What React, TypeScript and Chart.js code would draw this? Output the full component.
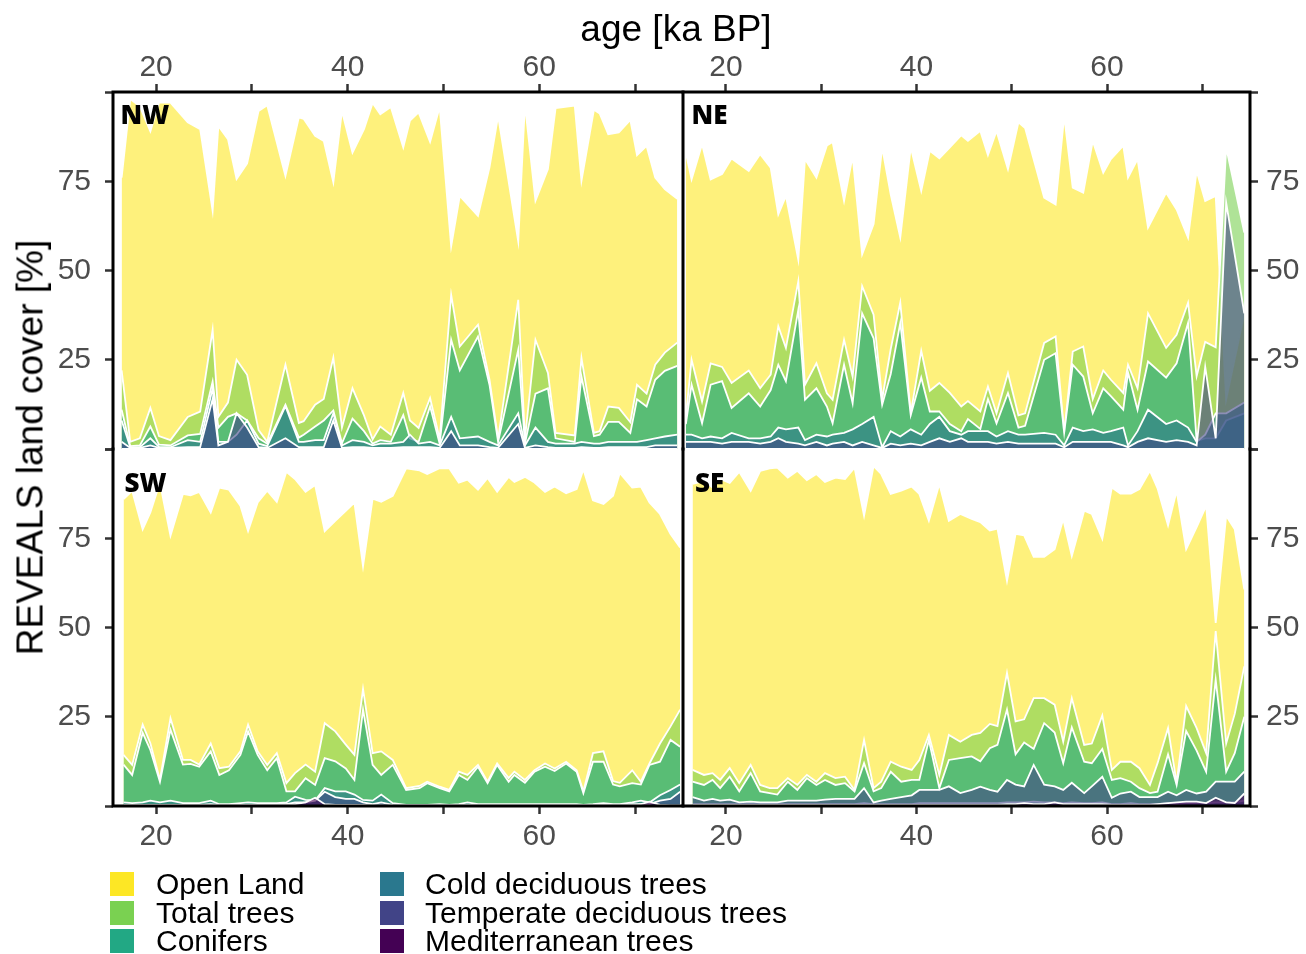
import React, { useEffect, useRef } from "react";
import { Chart, registerables } from "chart.js";
Chart.register(...registerables);

const seriesNames = [
  "Open Land",
  "Total trees",
  "Conifers",
  "Cold deciduous trees",
  "Temperate deciduous trees",
  "Mediterranean trees",
];
const seriesColors = ["#FDE725", "#7AD151", "#22A884", "#2A788E", "#414487", "#440154"];

const xTickValues = [20, 30, 40, 50, 60, 70];
const xTickLabels = ["20", "", "40", "", "60", ""];
const yTickValues = [0, 25, 50, 75, 100];
const yTickLabels = ["", "25", "50", "75", ""];
const panelLabels = ["NW", "NE", "SW", "SE"];

// ---------------- NW ----------------
const nwAges = [16.4,17.3,18.3,19.4,20.3,21.5,23.3,24.6,25.9,26.5,27.5,28.4,29.5,30.7,31.6,33.5,34.9,35.4,36.6,37.5,38.5,39.4,40.5,41.7,42.6,43.4,44.5,45.8,46.5,47.4,48.6,49.6,50.8,51.7,53.6,54.8,55.7,57.8,58.5,59.6,60.9,61.7,63.7,64.4,65.7,66.3,67.2,68.3,69.5,70.2,71.2,72.1,73.1,74.4];
const nwOpen = [76,98,96,89,97,97,91.5,89.6,66.7,90.5,86.8,75.6,80,94.7,96.3,76.5,92.9,92.5,87.7,86.3,74.7,94.7,83,89.6,96.9,93.8,95.8,84.5,92,94.3,86,95.8,56.8,70.9,65.3,78.9,93.3,58.2,96.6,69.5,78.4,95.5,96.2,75.1,95,94,88.2,88.7,92.2,82.3,84.9,76,72.8,70.1];
const nwTotal = [22,2,3,11.5,3.6,2.5,9,10.5,33.4,9,13,25,20.8,5.3,2,23.6,7.3,7.8,12.4,14,25.6,6,17,9.4,2.7,6.3,4,15.7,8,5.9,14.3,2.8,43.2,28.7,34.8,19.4,2.8,41.8,2.8,30.6,21.3,4.5,3.8,25.5,4.5,5,11.9,11.5,7.5,18,15.5,23.6,27,29.8];
const nwConifers = [11,0.8,1,6.3,1.2,1,3.8,4.2,18.9,6,9,10,8,3,1.5,12.4,3.2,4,6.3,8,10.8,1.6,8.5,5,1.5,2.5,2,9.5,3,2,12,1.5,30.6,22,31.5,18,2,27.8,1.5,15.5,17,3,2,20.3,3.6,4,7.6,7.6,4.5,13.9,11.9,19.4,21.9,23.3];
const nwCold = [8,0.5,0.5,3,0.6,0.5,2.5,2,17,2,2,4,8,1.5,0.8,12,2,2,2.5,2.5,10,1,2.5,2,1,1.5,1.5,2,4,1.5,2,1,9,3,3.5,2,1,10,1,6,2,1.5,1.5,2,1.5,1.5,2,2,2,2,2.5,3,3.5,4];
const nwTemperate = [2,0.3,0.3,1,0.3,0.3,0.5,0.5,14,1,2,10,6,0.5,0.3,3,0.5,0.5,0.5,0.5,8,0.3,0.5,0.5,0.3,0.3,0.3,0.5,0.5,0.5,0.5,0.3,5,1,1,0.5,0.3,7,0.3,1,0.5,0.3,0.3,0.5,0.3,0.3,0.5,0.5,0.5,0.5,0.5,1,1,1];
const nwMed = [0,0,0,0,0,0,0,0,0,0,0,0,0,0,0,0,0,0,0,0,0,0,0,0,0,0,0,0,0,0,0,0,0,0,0,0,0,0,0,0,0,0,0,0,0,0,0,0,0,0,0,0,0,0];

// ---------------- NE ----------------
const neAges = [15.8,16.4,17.5,18.4,19.6,20.6,22.4,23.6,24.7,25.5,26.3,27.6,28.3,29.5,30.6,31.2,32.4,33.3,34.3,35.5,36.4,37.3,38.3,39.4,40.5,41.4,42.4,43.5,44.7,45.4,46.7,47.5,48.4,49.6,50.7,51.4,53.4,54.6,55.5,56.4,57.5,58.5,59.6,60.4,61.7,62.2,63.2,64.3,66.2,67.3,68.5,69.4,70.3,71.4,72.5,74.4];
const neOpen = [83,75.5,85.4,75.5,77,81.4,77.9,82.6,78.8,65.7,70.9,53,81.2,76,85,86,69.5,82,54.5,63,84.5,71.3,59.2,84.5,72.3,83.5,81.4,84.5,87.9,86.3,89.1,82.3,89.1,78.4,91.5,89.9,70.4,68.5,93.3,73.2,71.8,86.3,77.4,81.2,85,76,81.2,62,71.8,67.1,59.2,77.9,69.5,70.9,14,38];
const neTotal = [9,25,13.3,24,23,18.5,22,17,20.8,34.4,28.3,47,18,24,15.6,13.8,30.6,20.3,45.6,37.6,14,28,41,10,27.5,16.3,18.5,15.7,11.9,13.4,10.5,17.5,10,21.3,9.4,10,29.7,31.5,4.6,27.3,28.7,14,22,19.4,15.7,23.6,17,38,28.3,32,41,20.4,30,28.5,84.5,60.6];
const neConifers = [7,18,7.2,18,19,11.5,15.6,11.9,16.5,23.6,19,39,13.8,17,11.9,7.2,23.6,12.8,38,31,12.4,21,35.3,9.5,20,10.5,10.5,7,5,8.4,5.6,14,7.2,15.7,6,6.5,25,26.8,4.6,23.6,20.3,10,17,14.8,11,21.4,11,24.5,20,24,35.3,2.3,3,3,8,10];
const neCold = [4,4,3,3.5,3,4.5,3,3,3.5,6,5.5,6,2.5,4,3.5,4,4.5,5.5,7,9,0.5,5,3.5,5.5,4,7,9,5,4,5,5,5,3.5,5,4,4,4.5,4,1,6,5,5.5,4.5,5,6,1,5,11,7,8,6,2,4,10,10,13];
const neTemperate = [2,2,2,2,1.5,2,2,1.5,2,3,2,1.5,1,2,1,1.5,2,1,2,1,0.3,1.5,1,1.5,1,2,3,2,3,2,2,2,1.5,2,1.5,1.5,1.5,1.5,0.5,2,2,2,2,2,1,0.5,2,3,2,2.5,2,1,23,3,69,38];
const neMed = [0,0,0,0,0,0,0,0,0,0,0,0,0,0,0,0,0,0,0,0,0,0,0,0,0,0,0,0,0,0,0,0,0,0,0,0,0,0,0,0,0,0,0,0,0,0,0,0,0,0,0,0,0,0,0,0];

// ---------------- SW ----------------
const swAges = [16.6,17.5,18.6,19.4,20.4,21.5,22.8,23.6,24.5,25.7,26.6,27.6,28.8,29.6,30.6,31.6,32.6,33.6,34.5,35.6,36.6,37.6,38.7,39.8,40.7,41.6,42.6,43.5,44.7,46.1,47.5,48.3,49.6,50.6,51.6,52.5,53.6,54.6,55.6,56.8,57.4,58.5,59.5,60.6,61.6,62.8,63.9,64.6,65.6,66.7,67.7,68.4,69.7,70.6,71.5,72.6,73.7,74.7];
const swOpen = [86,88.3,77.5,82.2,90.6,75.7,87.4,87,88,82.2,89.2,88.6,84.1,77,85,88.3,85.2,93.6,91.6,88,89.9,77,79.9,82.7,85,67.2,86.1,85.2,86.9,94.6,94,93,94.6,94.6,90.6,91.4,88.6,91.9,88,92.2,90.8,92.2,90.6,88,89.5,87.6,88.8,94.3,85.6,84.6,86.9,93.3,89.2,89.5,85,81.8,76.2,72.4];
const swTotal = [14.3,11.5,22.8,17.6,7.3,24.6,12.9,12.9,11.6,17.5,10.6,11,15.3,22.8,15.3,11.5,14.8,6.4,9.2,11.6,9.6,23.2,20.9,17.2,14.3,32.8,14.8,15.3,12.9,5,5.6,6.8,5.4,4.5,9.6,8.7,11.5,6.8,11.9,7.8,9.6,7.3,10,11.9,10.5,12.4,10,4.1,14.8,15.3,7,6.5,10,6.8,11.9,17.5,22.3,27];
const swConifers = [11.6,8.7,20.5,15.7,6.8,21.4,11.6,11.8,11,15.3,8.7,10,14.3,20.9,14.3,10,13.4,4.1,4.1,7.8,5.9,13.4,12.5,10.5,7.3,27,11.5,8.7,11.5,4.5,5,6.4,5,4.1,8.7,7.3,11,6.4,11.5,6.8,8.7,6.5,9.6,11,9.8,11.9,9.6,3.6,12.4,12.4,6,5.5,6.4,6,11.5,12.4,18.5,16.6];
const swCold = [1,0.8,1,1.5,1,1.5,0.8,0.8,0.8,1.5,0.5,0.5,0.8,1,0.8,0.8,0.8,1,2.6,1.7,1.5,5,4.1,4.1,3.2,1.7,1.5,3.2,0.8,0.3,0.3,0.3,0.5,0.3,0.5,1,0.5,0.5,0.5,0.5,0.5,0.5,0.5,0.5,0.5,0.5,0.5,0.3,0.5,0.8,0.5,0.5,1,1.5,1,3,4.5,6];
const swTemperate = [0.3,0.3,0.3,0.3,0.3,0.3,0.3,0.3,0.3,0.5,0.3,0.3,0.3,0.3,0.3,0.3,0.3,0.5,1,1,1.5,4,2.5,2,2,1,0.5,1,0.3,0.2,0.2,0.2,0.2,0.2,0.3,0.3,0.3,0.3,0.3,0.3,0.3,0.3,0.3,0.3,0.3,0.3,0.3,0.2,0.3,0.3,0.3,0.3,0.5,0.5,0.5,1.5,2,4];
const swMed = [0,0,0,0,0,0,0,0,0,0,0,0,0,0,0,0.3,0.5,0.5,0.5,1,2.3,0.5,0.3,0.3,0.3,0.3,0.2,0.2,0,0,0,0,0,0,0,0,0,0,0,0,0,0,0,0,0,0,0,0,0,0,0,0,0,0.5,1.2,0.3,0.2,0.2];

// ---------------- SE ----------------
const seAges = [16.5,17.7,18.6,19.4,20.4,21.4,22.6,23.6,24.6,25.4,26.5,27.5,28.5,29.5,30.4,31.5,32.5,33.5,34.5,35.5,36.3,37.3,38.4,39.5,40.3,41.3,42.4,43.4,44.6,45.8,46.7,47.7,48.5,49.5,50.4,51.3,52.3,53.4,54.5,55.4,56.3,57.6,58.4,59.5,60.5,61.4,62.5,63.4,64.5,65.3,66.4,67.3,68.3,69.4,70.4,71.4,72.5,73.4,74.4];
const seOpen = [90.2,91,89.2,91.6,90.5,93.6,88.3,93.9,94.6,94.8,92,93.9,91.3,93,90.8,92,91.6,94.8,81.3,95.2,93,87.4,88.3,89.5,87.4,79.9,90.2,79.9,81.8,80.4,79.5,77.2,77.7,63,76.2,75.8,69.8,69.8,71.9,80.4,70,82.7,81.8,74.8,89.2,87.5,87.5,88.8,93.9,89,78.6,88.3,71.9,78.1,84.1,51.3,81.3,77.5,60.7];
const seTotal = [10.1,8.7,9.2,7.3,10.6,6.4,11.5,5.9,5,5,7.8,5.9,8.7,6.8,9.2,7.8,8.2,4.5,18.5,5,6.8,12.4,11,10.1,12.9,19.9,8.7,19.9,18,19.9,20.5,23,22.4,37.3,23.7,24.3,30.2,30.2,28.4,18,30.2,17.1,17.5,25.4,10.1,12.4,12.4,10.6,5.9,12,21.8,6.4,28,21.8,14.8,49,17.5,25.8,39.1];
const seConifers = [6.8,5.9,7.3,5,8.2,4.1,9.2,4.1,3.6,3.2,6.8,4.5,7.8,5.9,7.3,5.9,6.4,4.1,12,4.1,5,9.6,6.8,7.3,7.3,18.5,5,12.9,13.4,13.9,12.5,16.2,17.1,27,14.5,17.8,16,23.2,20.6,12,22,12.4,12,16,7.3,7.8,6.8,5,3.6,4,14.5,5.9,21,15.5,9.6,35.4,9.6,14.8,25];
const seCold = [0.5,0.5,0.5,0.5,0.5,0.5,0.5,0.5,0.5,0.5,0.5,0.5,0.5,0.5,0.5,0.5,0.5,0.5,0.8,0.5,0.5,0.5,0.5,0.5,0.8,0.8,0.8,0.8,0.8,0.8,0.8,0.8,0.8,1,1,1,1.2,1,1,0.8,1,0.8,0.8,1,0.5,0.5,0.8,0.5,0.5,0.5,0.8,0.5,0.8,0.8,0.8,1,1,1,1.5];
const seTemperate = [2.5,1.5,2,1.5,1.8,1,1.2,1,1,1,1.5,1.5,1.5,1.5,1.8,2,2,2,5,1,1.5,2,2.5,3,4.5,4.5,4.5,5.5,3.6,4.5,5.4,4.5,4,7.3,6,5.5,11.5,6,5.5,4.5,6.5,3.6,5.5,8.2,2.3,3.5,4,2.5,2.5,2.5,4,3,4.5,3.5,4,6.8,6.8,6.8,9.6];
const seMed = [0.3,0.3,0.3,0.3,0.3,0.3,0.3,0.3,0.3,0.3,0.3,0.3,0.3,0.3,0.3,0.3,0.3,0.3,0.3,0.3,0.3,0.3,0.3,0.3,0.3,0.3,0.3,0.3,0.3,0.3,0.3,0.3,0.3,0.5,0.5,0.8,0.5,0.5,1,0.5,0.5,0.5,0.5,0.5,0.3,0.3,0.3,0.3,0.3,0.5,0.8,1,1.2,1.2,0.8,2.3,1,0.8,3.5];

type Rect = { left: number; top: number; right: number; bottom: number };
type PanelCfg = {
  label: string;
  ages: number[];
  series: number[][];
  xPos: "top" | "bottom";
  yPos: "left" | "right";
  area: Rect;
  sides: string[];
  labelPos: { left: number; top: number };
};

const W = 1306;
const H = 954;
const AXIS_W_LEFT = 90;
const AXIS_W_RIGHT = 56;
const AXIS_H = 60;

const panels: PanelCfg[] = [
  {
    label: panelLabels[0],
    ages: nwAges,
    series: [nwOpen, nwTotal, nwConifers, nwCold, nwTemperate, nwMed],
    xPos: "top",
    yPos: "left",
    area: { left: 113, top: 92, right: 683, bottom: 449 },
    sides: ["top", "left", "right"],
    labelPos: { left: 120.5, top: 101 },
  },
  {
    label: panelLabels[1],
    ages: neAges,
    series: [neOpen, neTotal, neConifers, neCold, neTemperate, neMed],
    xPos: "top",
    yPos: "right",
    area: { left: 683, top: 92, right: 1250, bottom: 449 },
    sides: ["top", "right"],
    labelPos: { left: 691.5, top: 101 },
  },
  {
    label: panelLabels[2],
    ages: swAges,
    series: [swOpen, swTotal, swConifers, swCold, swTemperate, swMed],
    xPos: "bottom",
    yPos: "left",
    area: { left: 113, top: 449, right: 683, bottom: 806 },
    sides: ["bottom", "left", "right"],
    labelPos: { left: 124.5, top: 469 },
  },
  {
    label: panelLabels[3],
    ages: seAges,
    series: [seOpen, seTotal, seConifers, seCold, seTemperate, seMed],
    xPos: "bottom",
    yPos: "right",
    area: { left: 683, top: 449, right: 1250, bottom: 806 },
    sides: ["bottom", "right"],
    labelPos: { left: 695, top: 469 },
  },
];

function rgba(hex: string, a: number) {
  const r = parseInt(hex.slice(1, 3), 16);
  const g = parseInt(hex.slice(3, 5), 16);
  const b = parseInt(hex.slice(5, 7), 16);
  return `rgba(${r},${g},${b},${a})`;
}

const FONT = "'Liberation Sans', Arial, Helvetica, sans-serif";

const framePlugin = {
  id: "frame",
  afterDraw(chart: any, _args: any, opts: any) {
    const { ctx, chartArea: a } = chart;
    ctx.save();
    ctx.strokeStyle = "#000000";
    ctx.lineWidth = 3;
    ctx.lineCap = "square";
    ctx.beginPath();
    for (const s of opts.sides || []) {
      if (s === "top") { ctx.moveTo(a.left, a.top); ctx.lineTo(a.right, a.top); }
      if (s === "bottom") { ctx.moveTo(a.left, a.bottom); ctx.lineTo(a.right, a.bottom); }
      if (s === "left") { ctx.moveTo(a.left, a.top); ctx.lineTo(a.left, a.bottom); }
      if (s === "right") { ctx.moveTo(a.right, a.top); ctx.lineTo(a.right, a.bottom); }
    }
    ctx.stroke();
    ctx.restore();
  },
};

function buildChart(canvas: HTMLCanvasElement, p: PanelCfg) {
  const datasets = p.series.map((vals, k) => ({
    label: seriesNames[k],
    data: p.ages.map((a, i) => ({ x: a, y: vals[i] })),
    backgroundColor: rgba(seriesColors[k], 0.6),
    borderColor: "#ffffff",
    borderWidth: 1.8,
    pointRadius: 0,
    pointHoverRadius: 0,
    fill: "origin",
    tension: 0,
    order: seriesNames.length - k,
  }));
  const a = p.area;
  const axisW = p.yPos === "left" ? AXIS_W_LEFT : AXIS_W_RIGHT;
  const padding = {
    left: p.yPos === "left" ? a.left - axisW : a.left,
    right: p.yPos === "right" ? W - a.right - axisW : W - a.right,
    top: p.xPos === "top" ? a.top - AXIS_H : a.top,
    bottom: p.xPos === "bottom" ? H - a.bottom - AXIS_H : H - a.bottom,
  };
  const tickGrid = {
    display: true,
    drawOnChartArea: false,
    drawTicks: true,
    tickLength: 8,
    tickWidth: 2.5,
    tickColor: "#333333",
  };
  return new Chart(canvas, {
    type: "line",
    data: { datasets: datasets as any },
    plugins: [framePlugin as any],
    options: {
      animation: false,
      responsive: false,
      maintainAspectRatio: false,
      devicePixelRatio: 1,
      events: [],
      layout: { padding },
      plugins: {
        legend: { display: false },
        tooltip: { enabled: false },
        title: { display: false },
        frame: { sides: p.sides },
      } as any,
      scales: {
        x: {
          type: "linear",
          position: p.xPos,
          min: 15.5,
          max: 75,
          afterBuildTicks: (s: any) => {
            s.ticks = xTickValues.map((v) => ({ value: v }));
          },
          afterFit: (s: any) => {
            s.height = AXIS_H;
          },
          ticks: {
            autoSkip: false,
            maxRotation: 0,
            minRotation: 0,
            padding: p.xPos === "top" ? -1.5 : 4.5,
            color: "#4D4D4D",
            font: { family: FONT, size: 30 },
            callback: (v: any) => {
              const i = xTickValues.indexOf(Number(v));
              return i >= 0 ? xTickLabels[i] : "";
            },
          },
          grid: tickGrid,
          border: { display: false },
        },
        y: {
          type: "linear",
          position: p.yPos,
          min: 0,
          max: 100,
          afterBuildTicks: (s: any) => {
            s.ticks = yTickValues.map((v) => ({ value: v }));
          },
          afterFit: (s: any) => {
            s.width = axisW;
          },
          ticks: {
            autoSkip: false,
            padding: p.yPos === "left" ? 14 : 8,
            color: "#4D4D4D",
            font: { family: FONT, size: 30 },
            callback: (v: any) => {
              const i = yTickValues.indexOf(Number(v));
              return i >= 0 ? yTickLabels[i] : "";
            },
          },
          grid: tickGrid,
          border: { display: false },
        },
      },
    } as any,
  });
}

function PanelCanvas({ p }: { p: PanelCfg }) {
  const ref = useRef<HTMLCanvasElement | null>(null);
  useEffect(() => {
    if (!ref.current) return;
    const chart = buildChart(ref.current, p);
    return () => chart.destroy();
  }, [p]);
  return (
    <canvas
      ref={ref}
      width={W}
      height={H}
      style={{ position: "absolute", left: 0, top: 0, width: W, height: H }}
    />
  );
}

const legendCols = [
  [0, 1, 2],
  [3, 4, 5],
];
const legendColX = [110, 380];
const legendTextX = [156, 425];
const legendRowCenter = [884, 912.5, 941];

export default function App() {
  useEffect(() => {
    document.body.style.margin = "0";
  }, []);
  return (
    <div
      style={{
        position: "absolute",
        left: 0,
        top: 0,
        width: W,
        height: H,
        background: "#ffffff",
        overflow: "hidden",
        fontFamily: FONT,
      }}
    >
      {panels.map((p) => (
        <PanelCanvas key={p.label} p={p} />
      ))}
      {panels.map((p) => (
        <div
          key={"lab" + p.label}
          style={{
            position: "absolute",
            left: p.labelPos.left,
            top: p.labelPos.top,
            fontFamily: "'Open Sans', 'Noto Sans', sans-serif",
            fontWeight: 800,
            fontSize: 26,
            lineHeight: "26px",
            color: "#000",
            whiteSpace: "nowrap",
          }}
        >
          {p.label}
        </div>
      ))}
      <div
        style={{
          position: "absolute",
          left: 0,
          width: 1352,
          top: 10,
          textAlign: "center",
          fontSize: 37,
          lineHeight: "37px",
          color: "#000",
          whiteSpace: "nowrap",
        }}
      >
        age [ka BP]
      </div>
      <div
        style={{
          position: "absolute",
          left: 29.5 - 300,
          top: 447.5 - 18.5,
          width: 600,
          height: 37,
          textAlign: "center",
          fontSize: 37,
          lineHeight: "37px",
          color: "#000",
          whiteSpace: "nowrap",
          transform: "rotate(-90deg)",
          transformOrigin: "50% 50%",
        }}
      >
        REVEALS land cover [%]
      </div>
      {legendCols.map((col, ci) =>
        col.map((k, ri) => (
          <React.Fragment key={"lg" + k}>
            <div
              style={{
                position: "absolute",
                left: legendColX[ci],
                top: legendRowCenter[ri] - 12,
                width: 24,
                height: 24,
                background: seriesColors[k],
              }}
            />
            <div
              style={{
                position: "absolute",
                left: legendTextX[ci],
                top: legendRowCenter[ri] - 15,
                fontSize: 30,
                lineHeight: "30px",
                color: "#000",
                whiteSpace: "nowrap",
              }}
            >
              {seriesNames[k]}
            </div>
          </React.Fragment>
        ))
      )}
    </div>
  );
}
